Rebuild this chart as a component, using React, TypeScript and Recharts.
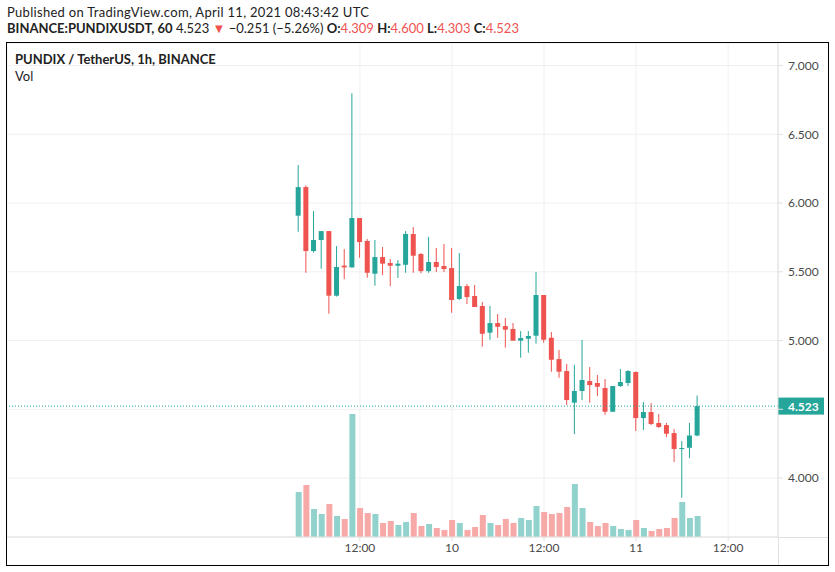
import { Bar, CartesianGrid, Cell, ComposedChart, ReferenceLine, XAxis, YAxis } from "recharts"

// hourly candles, Apr 9 04:00 -> Apr 11 08:00 (UTC)
const opens = [5.908, 6.116, 5.651, 5.731, 5.796, 5.326, 5.545, 5.532, 5.891, 5.724, 5.486, 5.607, 5.564, 5.544, 5.551, 5.775, 5.629, 5.505, 5.571, 5.542, 5.527, 5.302, 5.396, 5.324, 5.251, 5.057, 5.127, 5.105, 5.084, 4.999, 5.013, 5.035, 5.331, 5.02, 4.865, 4.778, 4.548, 4.633, 4.705, 4.691, 4.655, 4.482, 4.669, 4.691, 4.771, 4.436, 4.48, 4.4, 4.385, 4.327, 4.215, 4.22, 4.309]
const highs = [6.276, 6.129, 5.942, 5.796, 5.796, 5.687, 5.665, 6.798, 5.891, 5.738, 5.731, 5.68, 5.593, 5.585, 5.796, 5.825, 5.636, 5.753, 5.673, 5.702, 5.673, 5.636, 5.411, 5.404, 5.28, 5.251, 5.193, 5.164, 5.127, 5.069, 5.069, 5.498, 5.331, 5.062, 4.931, 4.829, 4.824, 5.004, 4.807, 4.749, 4.72, 4.669, 4.793, 4.785, 4.775, 4.553, 4.545, 4.465, 4.4, 4.356, 4.269, 4.4, 4.6]
const lows = [5.791, 5.493, 5.64, 5.522, 5.195, 5.32, 5.447, 5.53, 5.602, 5.457, 5.399, 5.476, 5.396, 5.455, 5.493, 5.493, 5.49, 5.493, 5.498, 5.498, 5.202, 5.295, 5.265, 5.244, 4.955, 5.006, 5.02, 4.948, 4.999, 4.875, 4.911, 4.977, 4.984, 4.773, 4.729, 4.531, 4.32, 4.567, 4.548, 4.596, 4.46, 4.482, 4.662, 4.669, 4.342, 4.349, 4.385, 4.364, 4.298, 4.116, 3.857, 4.145, 4.303]
const closes = [6.116, 5.651, 5.731, 5.796, 5.326, 5.535, 5.532, 5.891, 5.716, 5.493, 5.607, 5.559, 5.544, 5.559, 5.775, 5.617, 5.505, 5.571, 5.535, 5.52, 5.295, 5.396, 5.316, 5.244, 5.049, 5.127, 5.1, 5.079, 4.999, 5.018, 5.033, 5.331, 5.006, 4.86, 4.773, 4.567, 4.633, 4.713, 4.676, 4.664, 4.482, 4.669, 4.698, 4.778, 4.436, 4.48, 4.393, 4.371, 4.322, 4.211, 4.218, 4.309, 4.523]
const volumes = [450, 520, 280, 230, 330, 210, 180, 1230, 290, 240, 230, 140, 160, 120, 150, 240, 110, 130, 90, 70, 170, 140, 70, 100, 220, 140, 120, 180, 140, 190, 170, 310, 250, 230, 240, 300, 530, 290, 150, 110, 140, 110, 80, 70, 170, 90, 60, 80, 90, 190, 350, 190, 210]

const timeTicks = [8, 20, 32, 44, 56]
const timeLabels = ['12:00', '10', '12:00', '11', '12:00']
const priceTicks = [4, 4.5, 5, 5.5, 6, 6.5, 7]
const lastPrice = 4.523

const UP = '#26a69a'
const DOWN = '#ef5350'
const UP_VOL = '#92d2cc'
const DOWN_VOL = '#f7a9a7'
const FONT = 'Lato, sans-serif'

const data = opens.map((o, i) => ({
  t: i,
  open: o,
  high: highs[i],
  low: lows[i],
  close: closes[i],
  range: [lows[i], highs[i]],
  volume: volumes[i]
}))

const Candle = (props: any) => {
  const { x, y, width, height, payload } = props
  const top = Math.min(y, y + height)
  const h = Math.abs(height)
  const ppu = h / (payload.high - payload.low)
  const up = payload.close >= payload.open
  const color = up ? UP : DOWN
  const bTop = top + (payload.high - Math.max(payload.open, payload.close)) * ppu
  const bBot = top + (payload.high - Math.min(payload.open, payload.close)) * ppu
  const cx = x + width / 2
  return (
    <g>
      <rect x={cx - 0.5} y={top} width={1} height={h} fill={color} />
      <rect x={x} y={bTop} width={width} height={Math.max(1, bBot - bTop)} fill={color} />
    </g>
  )
}

const PriceTag = (props: any) => {
  const vb = props.viewBox
  if (!vb) return null
  const x = vb.x + vb.width
  return (
    <g>
      <rect x={x} y={vb.y - 8.5} width={46} height={17} fill={UP} />
      <text x={x + 10} y={vb.y + 4.5} fill='#fff' fontSize={12} fontWeight='bold' fontFamily={FONT}>
        {lastPrice.toFixed(3)}
      </text>
    </g>
  )
}

const red = { color: DOWN }
const bold = { fontWeight: 700 }

const App = () => {
  return (
    <div style={{ position: 'absolute', left: 0, top: 0, width: 835, height: 572, background: '#fff', fontFamily: FONT, color: '#222' }}>
      <div style={{ position: 'absolute', left: 7, top: 4, fontSize: 13, letterSpacing: 0.3, whiteSpace: 'nowrap' }}>
        Published on TradingView.com, April 11, 2021 08:43:42 UTC
      </div>
      <div style={{ position: 'absolute', left: 7, top: 20, fontSize: 13, whiteSpace: 'nowrap' }}>
        <span style={bold}>BINANCE:PUNDIXUSDT, 60</span> 4.523 <span style={red}>▼</span> −0.251 (−5.26%){' '}
        <span style={bold}>O:</span><span style={red}>4.309</span>{' '}
        <span style={bold}>H:</span><span style={red}>4.600</span>{' '}
        <span style={bold}>L:</span><span style={red}>4.303</span>{' '}
        <span style={bold}>C:</span><span style={red}>4.523</span>
      </div>
      <ComposedChart
        width={835}
        height={572}
        data={data}
        margin={{ top: 43, right: 7, left: 7, bottom: 7 }}
      >
        <CartesianGrid xAxisId='t' yAxisId='price' stroke='#f0f0f0' />
        <XAxis
          xAxisId='t'
          dataKey='t'
          type='number'
          domain={[-38, 62.5]}
          allowDataOverflow
          ticks={timeTicks}
          tickFormatter={(v: number) => timeLabels[timeTicks.indexOf(v)] ?? ''}
          height={28}
          stroke='#e0e0e0'
          tickSize={4}
          tick={{ fill: '#4a4a4a', fontSize: 12, fontFamily: FONT }}
        />
        <XAxis xAxisId='v' dataKey='t' type='number' domain={[-38, 62.5]} allowDataOverflow hide />
        <YAxis
          yAxisId='price'
          orientation='right'
          type='number'
          domain={[3.571, 7.164]}
          allowDataOverflow
          ticks={priceTicks}
          tickFormatter={(v: number) => (v === 4.5 ? '' : v.toFixed(3))}
          width={50}
          tickSize={5}
          tickMargin={5}
          stroke='#e0e0e0'
          tick={{ fill: '#4a4a4a', fontSize: 12, fontFamily: FONT, textAnchor: 'start' }}
        />
        <YAxis yAxisId='vol' type='number' domain={[0, 4940]} allowDataOverflow hide />
        <Bar xAxisId='v' yAxisId='vol' dataKey='volume' barSize={6} isAnimationActive={false}>
          {data.map((d, i) => (
            <Cell key={`v-${i}`} fill={d.close >= d.open ? UP_VOL : DOWN_VOL} />
          ))}
        </Bar>
        <Bar
          xAxisId='t'
          yAxisId='price'
          dataKey='range'
          barSize={5}
          shape={Candle}
          isAnimationActive={false}
        />
        <ReferenceLine
          xAxisId='t'
          yAxisId='price'
          y={lastPrice}
          stroke={UP}
          strokeDasharray='1 2'
          label={(p: any) => <PriceTag {...p} />}
        />
      </ComposedChart>
      <div style={{ position: 'absolute', left: 778, top: 537, width: 50, height: 1, background: '#e0e0e0' }} />
      <div style={{ position: 'absolute', left: 778, top: 537, width: 1, height: 28, background: '#e0e0e0' }} />
      <div style={{ position: 'absolute', left: 6, top: 42, width: 823, height: 524, border: '1px solid #000', boxSizing: 'border-box', pointerEvents: 'none' }} />
      <div style={{ position: 'absolute', left: 15, top: 51, fontSize: 13, fontWeight: 700, whiteSpace: 'nowrap' }}>
        PUNDIX / TetherUS, 1h, BINANCE
      </div>
      <div style={{ position: 'absolute', left: 15, top: 68, fontSize: 13, whiteSpace: 'nowrap' }}>
        Vol
      </div>
    </div>
  )
}

export default App
